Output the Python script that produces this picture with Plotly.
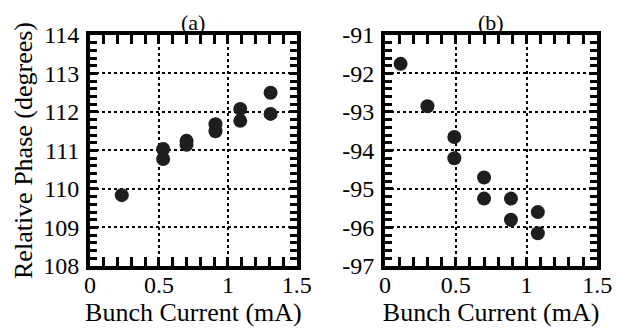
import plotly.graph_objects as go
from plotly.subplots import make_subplots

# Panel (a)
a_current = [0.23, 0.53, 0.53, 0.70, 0.70, 0.91, 0.91, 1.09, 1.09, 1.31, 1.31]
a_phase = [109.84, 111.04, 110.78, 111.25, 111.15, 111.68, 111.50, 112.08, 111.77, 112.50, 111.95]
# Panel (b)
b_current = [0.11, 0.30, 0.49, 0.49, 0.70, 0.70, 0.89, 0.89, 1.08, 1.08]
b_phase = [-91.75, -92.85, -93.65, -94.20, -94.70, -95.25, -95.25, -95.80, -95.60, -96.15]

x_ticks = [0, 0.5, 1, 1.5]
x_ticklabels = ["0", "0.5", "1", "1.5"]
a_yticks = [108, 109, 110, 111, 112, 113, 114]
a_yticklabels = ["108", "109", "110", "111", "112", "113", "114"]
b_yticks = [-97, -96, -95, -94, -93, -92, -91]
b_yticklabels = ["-97", "-96", "-95", "-94", "-93", "-92", "-91"]

FONT = "Liberation Serif, Times New Roman, serif"

fig = make_subplots(rows=1, cols=2)
fig.add_trace(go.Scatter(x=a_current, y=a_phase, mode="markers",
                         marker=dict(size=14, color="#1e1e1e")), row=1, col=1)
fig.add_trace(go.Scatter(x=b_current, y=b_phase, mode="markers",
                         marker=dict(size=14, color="#1e1e1e")), row=1, col=2)

common_axis = dict(
    showline=True, linewidth=4, linecolor="black", mirror="allticks",
    ticks="inside", tickwidth=3, tickcolor="black",
    showgrid=True, gridcolor="black", gridwidth=2, griddash="dot",
    zeroline=False, tickmode="array", automargin=False,
    tickfont=dict(family=FONT, size=24, color="black"),
)

fig.update_xaxes(**common_axis, ticklen=9, range=[0, 1.5], tickvals=x_ticks, ticktext=x_ticklabels,
                 ticklabelstandoff=-6,
                 minor=dict(tickmode="linear", tick0=0, dtick=0.1, ticks="inside", ticklen=9,
                            tickwidth=3, tickcolor="black", showgrid=False),
                 title=dict(text="Bunch Current (mA)",
                            font=dict(family=FONT, size=26, color="black"), standoff=3))
fig.update_yaxes(**common_axis, ticklen=8, ticklabelstandoff=2,
                 minor=dict(tickmode="linear", dtick=0.2, ticks="inside", ticklen=7,
                            tickwidth=2.5, tickcolor="black", showgrid=False))
fig.update_yaxes(range=[108, 114], tickvals=a_yticks, ticktext=a_yticklabels,
                 minor_tick0=108, row=1, col=1,
                 title=dict(text="Relative Phase (degrees)",
                            font=dict(family=FONT, size=26, color="black"), standoff=4))
fig.update_yaxes(range=[-97, -91], tickvals=b_yticks, ticktext=b_yticklabels,
                 minor_tick0=-97, row=1, col=2)

fig.update_layout(
    width=617, height=330, showlegend=False,
    paper_bgcolor="white", plot_bgcolor="white",
    margin=dict(l=0, r=0, t=0, b=0),
    xaxis=dict(domain=[0.146, 0.481]),
    xaxis2=dict(domain=[0.624, 0.968]),
    yaxis=dict(domain=[0.194, 0.894]),
    yaxis2=dict(domain=[0.194, 0.894]),
    annotations=[
        dict(text="(a)", x=0.5, y=1.0, xref="x domain", yref="y domain", yanchor="bottom",
             yshift=-2, showarrow=False, font=dict(family=FONT, size=22, color="black")),
        dict(text="(b)", x=0.5, y=1.0, xref="x2 domain", yref="y2 domain", yanchor="bottom",
             yshift=-2, showarrow=False, font=dict(family=FONT, size=22, color="black")),
    ],
)

fig.write_html("out.html", config={"displayModeBar": False},
               post_script="document.body.style.margin='0';document.body.style.overflow='hidden';")
